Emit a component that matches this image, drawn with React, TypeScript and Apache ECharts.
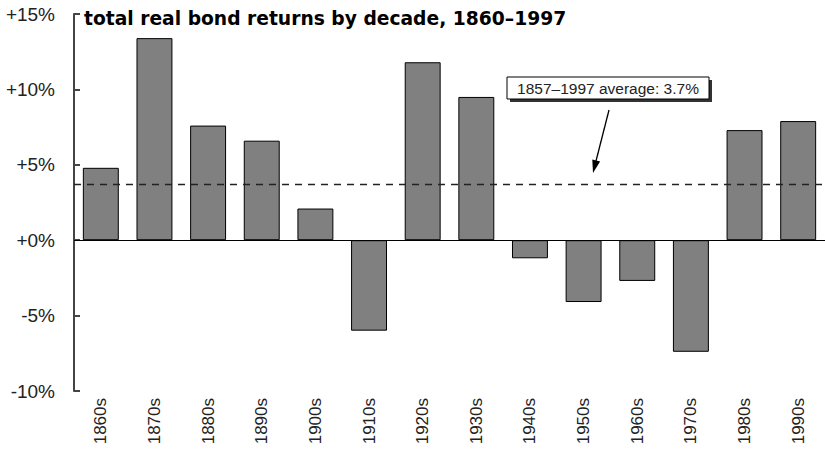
import React, { useEffect, useRef } from "react";
import * as echarts from "echarts";

const decades = ["1860s","1870s","1880s","1890s","1900s","1910s","1920s","1930s","1940s","1950s","1960s","1970s","1980s","1990s"];
const returns = [4.8, 13.4, 7.6, 6.6, 2.1, -6.0, 11.8, 9.5, -1.2, -4.1, -2.7, -7.4, 7.3, 7.9];
const average = 3.7;
const yTicks = { min: -10, max: 15, interval: 5 };
const titleText = "total real bond returns by decade, 1860\u20131997";
const noteText = "1857\u20131997 average: 3.7%";

const FONT = "'Liberation Sans', Arial, Helvetica, sans-serif";
const TITLE_FONT = "'DejaVu Sans', 'Liberation Sans', Arial, sans-serif";

export default function App() {
  const ref = useRef<HTMLDivElement>(null);
  useEffect(() => {
    if (!ref.current) return;
    const chart = echarts.init(ref.current, null, { renderer: "svg" });
    chart.setOption({
      animation: false,
      backgroundColor: "#ffffff",
      textStyle: { fontFamily: FONT },
      grid: { left: 74, right: 0, top: 14, bottom: 59, containLabel: false },
      xAxis: {
        type: "category",
        data: decades,
        axisLine: { show: false },
        axisTick: { show: false },
        axisLabel: { rotate: 90, margin: 7, fontSize: 17, color: "#222", fontFamily: FONT },
        splitLine: { show: false },
      },
      yAxis: {
        type: "value",
        min: yTicks.min,
        max: yTicks.max,
        interval: yTicks.interval,
        axisLine: { show: true, lineStyle: { color: "#444", width: 2 } },
        axisTick: { show: true, inside: true, length: 6, lineStyle: { color: "#444", width: 2 } },
        axisLabel: {
          margin: 19,
          fontSize: 19,
          color: "#222",
          fontFamily: FONT,
          formatter: (v: number) => (v >= 0 ? "+" + v + "%" : v + "%"),
        },
        splitLine: { show: false },
      },
      series: [
        {
          type: "bar",
          data: returns,
          barWidth: "67%",
          itemStyle: { color: "#808080", borderColor: "#000", borderWidth: 1 },
          markLine: {
            silent: true,
            symbol: "none",
            label: { show: false },
            data: [
              { yAxis: 0, lineStyle: { color: "#000", type: "solid", width: 1.2 } },
              { yAxis: average, lineStyle: { color: "#222", type: [7, 6], width: 1.3 } },
            ],
          },
          z: 2,
        },
      ],
      graphic: [
        {
          type: "text",
          left: 84,
          top: 9,
          style: { text: titleText, font: "bold 18.7px " + TITLE_FONT, fill: "#000" },
        },
        { type: "rect", shape: { x: 510, y: 80, width: 202, height: 22 }, style: { fill: "#333" }, z: 10 },
        { type: "rect", shape: { x: 507, y: 77, width: 202, height: 22 }, style: { fill: "#fff", stroke: "#000", lineWidth: 1 }, z: 11 },
        {
          type: "text",
          x: 608,
          y: 88,
          style: { text: noteText, font: "15.5px " + FONT, fill: "#222", align: "center", verticalAlign: "middle" },
          z: 12,
        },
        { type: "line", shape: { x1: 609, y1: 110, x2: 596, y2: 161 }, style: { stroke: "#000", lineWidth: 1.3 }, z: 10 },
        { type: "polygon", shape: { points: [[593, 173], [600.1, 161.4], [592.3, 159.4]] }, style: { fill: "#000" }, z: 10 },
      ],
    });
    return () => chart.dispose();
  }, []);
  return <div ref={ref} style={{ position: "fixed", left: 0, top: 0, width: 825, height: 450 }} />;
}
